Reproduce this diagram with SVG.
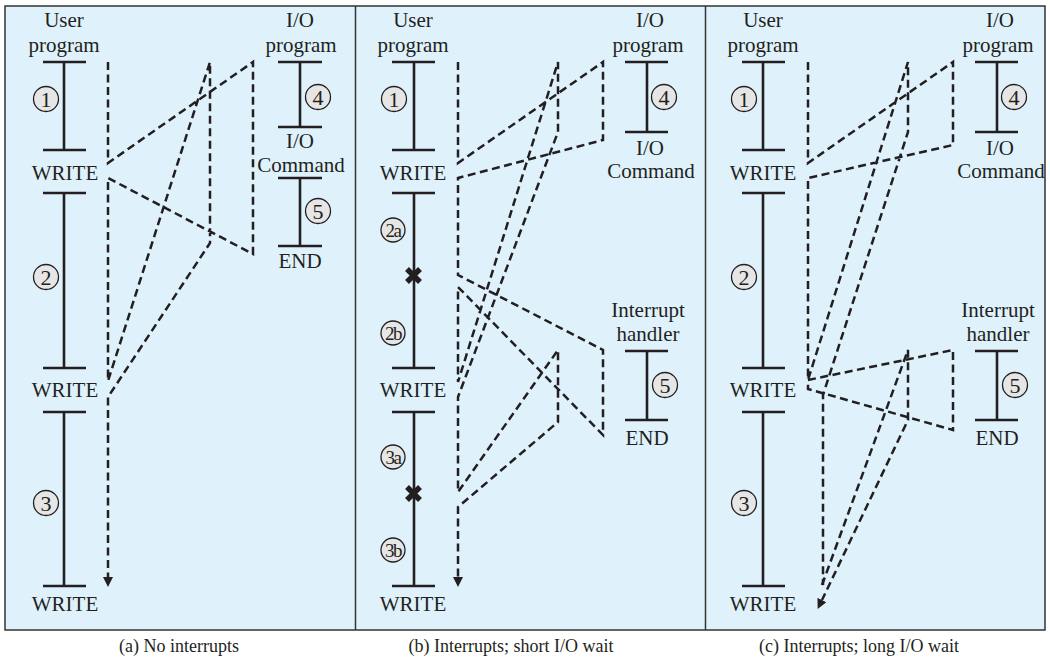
<svg xmlns="http://www.w3.org/2000/svg" width="1050" height="664" viewBox="0 0 1050 664">
<style>
.bg{fill:#dff2fc;stroke:#333;stroke-width:1.5}
.sep{stroke:#333;stroke-width:1.5}
.sol{stroke:#231f20;stroke-width:2.6;fill:none}
.dash{fill:none;stroke:#231f20;stroke-width:2.5;stroke-dasharray:8 4.5;stroke-linejoin:miter}
text{font-family:"Liberation Serif","Times New Roman",serif;fill:#231f20;text-anchor:middle}
.lbl{font-size:21px}
.num{font-size:22px}
.sub{font-size:19px;letter-spacing:-1.5px}
.cap{font-size:18px}
.c{fill:#e6e6e6;stroke:#231f20;stroke-width:1.3}
.x{stroke:#231f20;stroke-width:5.5;stroke-linecap:butt}
</style>
<defs>
<marker id="ah" viewBox="0 0 10 10" refX="0" refY="5" markerWidth="10" markerHeight="10" markerUnits="userSpaceOnUse" orient="auto">
<path d="M0,0 L10,5 L0,10 z" fill="#231f20"/>
</marker>
</defs>
<rect class="bg" x="5" y="6" width="1040" height="624"/>
<line class="sep" x1="355.5" y1="6" x2="355.5" y2="630"/>
<line class="sep" x1="705.5" y1="6" x2="705.5" y2="630"/>

<!-- Panel a -->
<g id="a-user">
<text class="lbl" x="64" y="27">User</text>
<text class="lbl" x="64" y="52">program</text>
<path class="sol" d="M43,62 H86 M64,62 V150 M43,150 H86 M43,193 H86 M64,193 V368 M43,368 H86 M43,412 H86 M64,412 V586 M43,586 H86"/>
<circle class="c" cx="46" cy="99" r="12.5"/><text class="num" x="46" y="106.5">1</text>
<circle class="c" cx="46" cy="277" r="12.5"/><text class="num" x="46" y="284.5">2</text>
<circle class="c" cx="46" cy="503" r="12.5"/><text class="num" x="46" y="510.5">3</text>
<text class="lbl" x="65" y="180">WRITE</text>
<text class="lbl" x="65" y="397">WRITE</text>
<text class="lbl" x="65" y="611">WRITE</text>
</g>
<g id="a-io">
<text class="lbl" x="300" y="27">I/O</text>
<text class="lbl" x="301" y="52">program</text>
<path class="sol" d="M278,62 H322 M300,62 V127 M278,127 H322 M278,178 H322 M300,178 V246 M278,246 H322"/>
<circle class="c" cx="318" cy="97" r="12.5"/><text class="num" x="318" y="104.5">4</text>
<circle class="c" cx="318" cy="211" r="12.5"/><text class="num" x="318" y="218.5">5</text>
<text class="lbl" x="300" y="148">I/O</text>
<text class="lbl" x="301" y="172">Command</text>
<text class="lbl" x="300" y="268">END</text>
</g>

<!-- Panel b -->
<g id="b-user">
<text class="lbl" x="413" y="27">User</text>
<text class="lbl" x="413" y="52">program</text>
<path class="sol" d="M392,62 H435 M414,62 V150 M392,150 H435 M392,193 H435 M414,193 V368 M392,368 H435 M392,412 H435 M414,412 V586 M392,586 H435"/>
<circle class="c" cx="394" cy="99" r="12.5"/><text class="num" x="394" y="106.5">1</text>
<circle class="c" cx="393" cy="230" r="12"/><text class="sub" x="393" y="236.5">2a</text>
<circle class="c" cx="393" cy="333" r="12"/><text class="sub" x="393" y="339.5">2b</text>
<circle class="c" cx="393" cy="457" r="12"/><text class="sub" x="393" y="463.5">3a</text>
<circle class="c" cx="393" cy="550" r="12"/><text class="sub" x="393" y="556.5">3b</text>
<path class="x" d="M407,269 L420,282 M420,269 L407,282"/>
<path class="x" d="M407,487 L420,500 M420,487 L407,500"/>
<text class="lbl" x="413" y="180">WRITE</text>
<text class="lbl" x="413" y="397">WRITE</text>
<text class="lbl" x="413" y="611">WRITE</text>
</g>
<g id="b-io">
<text class="lbl" x="650" y="27">I/O</text>
<text class="lbl" x="648" y="52">program</text>
<path class="sol" d="M625,62 H668 M647,62 V132 M625,132 H668"/>
<circle class="c" cx="664" cy="97" r="12.5"/><text class="num" x="664" y="104.5">4</text>
<text class="lbl" x="650" y="155">I/O</text>
<text class="lbl" x="651" y="178">Command</text>
</g>
<g id="b-int">
<text class="lbl" x="648" y="317">Interrupt</text>
<text class="lbl" x="648" y="341">handler</text>
<path class="sol" d="M625,351 H668 M647,351 V420 M625,420 H668"/>
<circle class="c" cx="665" cy="385" r="12.5"/><text class="num" x="665" y="392.5">5</text>
<text class="lbl" x="647" y="445">END</text>
</g>

<!-- Panel c -->
<g id="c-user">
<text class="lbl" x="763" y="27">User</text>
<text class="lbl" x="763" y="52">program</text>
<path class="sol" d="M742,62 H785 M763,62 V150 M742,150 H785 M742,193 H785 M763,193 V368 M742,368 H785 M742,412 H785 M763,412 V586 M742,586 H785"/>
<circle class="c" cx="744" cy="99" r="12.5"/><text class="num" x="744" y="106.5">1</text>
<circle class="c" cx="744" cy="277" r="12.5"/><text class="num" x="744" y="284.5">2</text>
<circle class="c" cx="744" cy="503" r="12.5"/><text class="num" x="744" y="510.5">3</text>
<text class="lbl" x="763" y="180">WRITE</text>
<text class="lbl" x="763" y="397">WRITE</text>
<text class="lbl" x="763" y="611">WRITE</text>
</g>
<g id="c-io">
<text class="lbl" x="1000" y="27">I/O</text>
<text class="lbl" x="998" y="52">program</text>
<path class="sol" d="M975,62 H1018 M997,62 V132 M975,132 H1018"/>
<circle class="c" cx="1014" cy="97" r="12.5"/><text class="num" x="1014" y="104.5">4</text>
<text class="lbl" x="1000" y="155">I/O</text>
<text class="lbl" x="1001" y="178">Command</text>
</g>
<g id="c-int">
<text class="lbl" x="998" y="317">Interrupt</text>
<text class="lbl" x="998" y="341">handler</text>
<path class="sol" d="M975,351 H1018 M997,351 V420 M975,420 H1018"/>
<circle class="c" cx="1015" cy="385" r="12.5"/><text class="num" x="1015" y="392.5">5</text>
<text class="lbl" x="997" y="445">END</text>
</g>

<g id="connectors">
<path class="dash" marker-end="url(#ah)" d="M108,62 L108,163 L253,62 L253,254 L108,178 L108,381 L210,62 L210,243 L108,397 L108,577"/>
<path class="dash" marker-end="url(#ah)" d="M458,62 L458,163 L603,62 L603,140 L458,178 L458,275 L603,350 L603,435 L458,287 L458,382 L558,62 L558,132 L458,397 L458,492 L558,350 L558,422 L458,507 L458,577"/>
<path class="dash" d="M808,62 L808,163 L953,62 L953,145 L808,178 L808,380 L908,62 L908,132 L823,395 L823,585"/>
<path class="dash" d="M808,380 L953,350 L953,430 L808,389 L808,383"/>
<path class="dash" marker-end="url(#ah)" d="M822,585 L908,350 L908,420 L822,600"/>
</g>

<g id="captions">
<text class="cap" x="179" y="652">(a) No interrupts</text>
<text class="cap" x="511" y="652">(b) Interrupts; short I/O wait</text>
<text class="cap" x="859" y="652">(c) Interrupts; long I/O wait</text>
</g>
</svg>
